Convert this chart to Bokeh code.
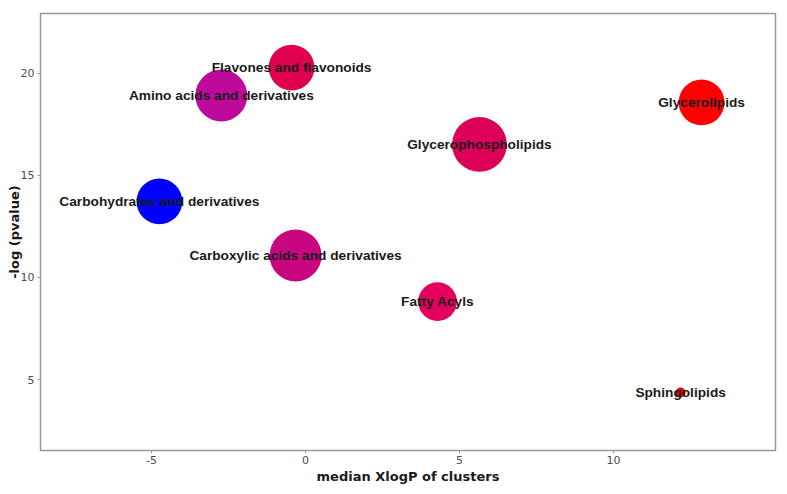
import math
from bokeh.plotting import figure
from bokeh.models import ColumnDataSource, FixedTicker, Range1d
from bokeh.core.properties import value
from bokeh.embed import file_html
from bokeh.resources import INLINE

# ---- data ----
classes = [
    "Flavones and flavonoids",
    "Amino acids and derivatives",
    "Glycerolipids",
    "Glycerophospholipids",
    "Carbohydrates and derivatives",
    "Carboxylic acids and derivatives",
    "Fatty Acyls",
    "Sphingolipids",
]
median_xlogp = [-0.45, -2.73, 12.86, 5.65, -4.74, -0.32, 4.29, 12.18]
neg_log_p = [20.29, 18.92, 18.58, 16.52, 13.73, 11.08, 8.82, 4.36]
cluster_size = [21, 27, 21, 30, 21, 27, 15, 1]
colors = ["#E0004F", "#BE0A9B", "#FF0000", "#DC0058", "#0000FF", "#C8067F", "#E3005E", "#E80000"]

x_ticks = [-5, 0, 5, 10]
y_ticks = [5, 10, 15, 20]
x_tick_labels = {-5: "-5", 0: "0", 5: "5", 10: "10"}
y_tick_labels = {5: "5", 10: "10", 15: "15", 20: "20"}

diam = [10 * math.sqrt(n) for n in cluster_size]

src = ColumnDataSource(dict(x=median_xlogp, y=neg_log_p, label=classes,
                            size=diam, color=colors))

p = figure(width=787, height=494, output_backend="svg", toolbar_location=None,
           x_range=Range1d(-8.60, 15.26), y_range=Range1d(1.52, 22.94))
p.min_border_left = 40
p.min_border_right = 12
p.min_border_top = 13
p.min_border_bottom = 44

p.scatter("x", "y", size="size", fill_color="color", line_color=None, source=src)
p.text("x", "y", text="label", source=src, text_align="center", text_baseline="middle",
       text_font=value("Liberation Sans"), text_font_style="bold",
       text_font_size="13.7px", text_color="#1a1a1a")

p.grid.visible = False
p.outline_line_color = "#9a9a9a"
p.outline_line_width = 1.5

for ax in (p.xaxis[0], p.yaxis[0]):
    ax.axis_line_color = None
    ax.major_tick_line_color = "#9a9a9a"
    ax.major_tick_in = 0
    ax.major_tick_out = 3
    ax.minor_tick_line_color = None
    ax.major_label_text_font = "DejaVu Sans"
    ax.major_label_text_font_size = "11px"
    ax.major_label_text_color = "#4d4d4d"
    ax.axis_label_text_font = "DejaVu Sans"
    ax.axis_label_text_font_style = "bold"
    ax.axis_label_text_font_size = "13px"
    ax.axis_label_text_color = "#1a1a1a"

p.xaxis.ticker = FixedTicker(ticks=x_ticks)
p.yaxis.ticker = FixedTicker(ticks=y_ticks)
p.xaxis.major_label_overrides = x_tick_labels
p.yaxis.major_label_overrides = y_tick_labels
p.xaxis.axis_label = "median XlogP of clusters"
p.yaxis.axis_label = "-log (pvalue)"
p.xaxis.major_label_standoff = 2
p.xaxis.axis_label_standoff = 2
p.yaxis.major_label_standoff = 3
p.yaxis.axis_label_standoff = -4

open("out.html", "w").write(file_html(p, INLINE))
